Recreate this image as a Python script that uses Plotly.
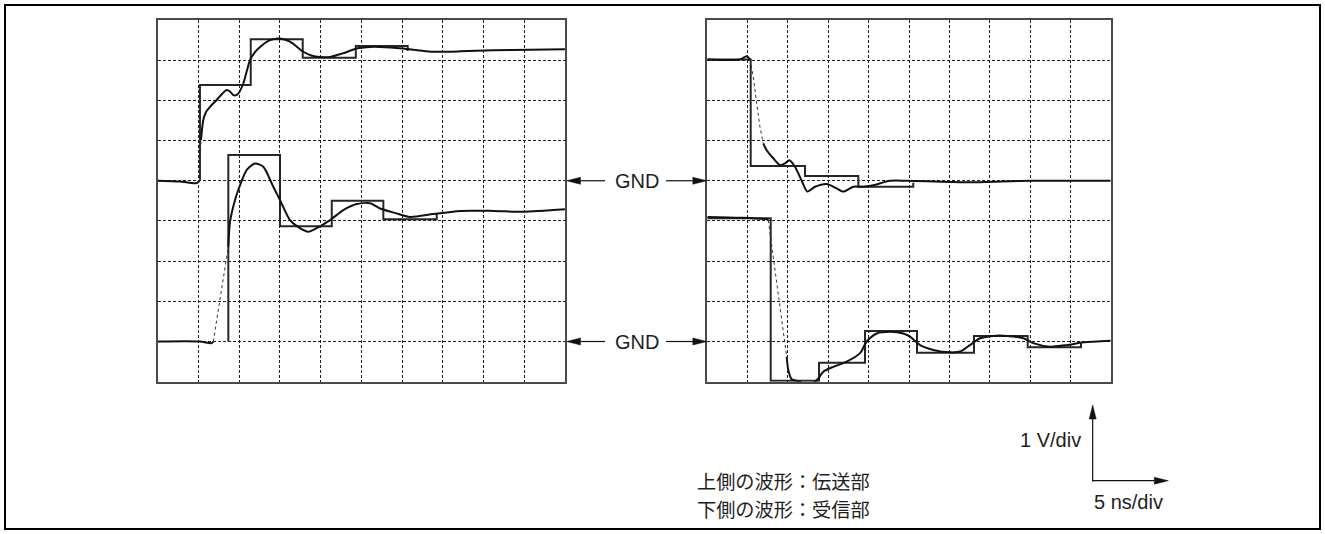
import plotly.graph_objects as go

# ---- canvas / screen geometry (pixels) ----
W, H = 1325, 534
PANEL_TOP, PANEL_BOTTOM = 20.0, 381.7
LEFT_PANEL = (157.5, 565.0)
RIGHT_PANEL = (707.3, 1110.7)

X_DIVS, Y_DIVS = 10, 9
NS_PER_DIV, V_PER_DIV = 5, 1

# ground reference of each trace, in divisions above the bottom of the screen
GND_UPPER = 5
GND_LOWER = 1

# ---- left screen: rising edge ----
# transmitter side (upper trace): time [ns], voltage above GND [V]
L_TX_T = [0.0, 2.76, 4.81, 5.15, 5.28, 5.34, 5.62, 5.95, 6.44, 7.26, 7.91, 8.49, 8.90,
          9.30, 9.63, 9.91, 10.53, 10.98, 11.35, 11.96, 12.58, 13.80, 15.03, 16.26,
          17.89, 18.96, 19.94, 21.17, 22.76, 24.44, 26.07, 27.30, 30.12, 32.21, 33.80,
          37.12, 41.16, 45.71, 50.0]
L_TX_V = [0.0, -0.02, -0.06, 0.0, 0.51, 1.01, 1.51, 1.71, 1.84, 2.01, 2.16, 2.26, 2.22,
          2.13, 2.13, 2.17, 2.42, 2.75, 3.00, 3.20, 3.33, 3.50, 3.54, 3.46,
          3.21, 3.11, 3.08, 3.08, 3.17, 3.29, 3.33, 3.33, 3.29, 3.24, 3.21,
          3.22, 3.25, 3.26, 3.27]
L_TX_FAST = (3, 5)          # index range sampled too coarsely -> drawn dotted
# lattice-diagram estimate for the transmitter side
L_TX_STEP_T = [5.21, 5.21, 11.44, 17.82, 24.33, 30.70]
L_TX_STEP_V = [0.0, 2.38, 3.52, 3.06, 3.35, 3.23]

# receiver side (lower trace)
L_RX_T = [0.0, 5.21, 6.65, 6.85, 8.69, 8.90, 9.51, 9.91, 10.95, 11.96, 12.98, 14.21,
          15.03, 16.26, 17.48, 18.50, 19.53, 21.17, 22.80, 24.44, 26.07, 27.30, 29.14,
          30.98, 33.84, 37.12, 41.16, 44.88, 50.0]
L_RX_V = [0.0, 0.0, -0.04, 0.0, 2.36, 2.98, 3.52, 3.77, 4.27, 4.43, 4.35, 3.85,
          3.52, 3.02, 2.82, 2.73, 2.82, 3.02, 3.27, 3.42, 3.44, 3.31, 3.20,
          3.10, 3.17, 3.25, 3.25, 3.23, 3.29]
L_RX_FAST = (3, 4)
L_RX_STEP_T = [8.69, 8.69, 15.03, 21.38, 27.71, 34.26]
L_RX_STEP_V = [0.0, 4.64, 2.87, 3.50, 3.04, 3.17]

# ---- right screen: falling edge ----
R_TX_T = [0.0, 4.05, 4.88, 5.29, 5.70, 6.12, 6.53, 6.94, 7.36, 8.18, 9.01, 9.63, 10.16,
          10.87, 11.70, 12.40, 13.35, 14.80, 16.04, 16.86, 18.10, 19.34, 20.58, 22.65,
          24.72, 32.15, 40.0, 50.0]
R_TX_V = [3.02, 3.02, 3.10, 3.02, 2.59, 1.93, 1.34, 0.93, 0.76, 0.56, 0.39, 0.43, 0.51,
          0.35, 0.0, -0.27, -0.15, -0.08, -0.19, -0.27, -0.15, -0.15, -0.11, 0.0,
          0.0, -0.04, 0.0, 0.0]
R_TX_FAST = (3, 7)
R_TX_STEP_T = [0.0, 5.38, 12.11, 18.72, 25.53]
R_TX_STEP_V = [3.02, 0.37, 0.12, -0.15, -0.05]

R_RX_T = [0.0, 4.05, 7.36, 7.56, 9.84, 10.04, 10.46, 11.49, 12.32, 13.14, 13.76, 14.38,
          15.62, 17.28, 18.93, 19.76, 21.0, 22.65, 24.29, 25.13, 26.37, 28.01, 30.08,
          31.32, 32.56, 33.80, 35.45, 37.11, 39.17, 40.41, 42.48, 44.55, 46.61, 50.0]
R_RX_V = [3.10, 3.08, 3.04, 3.02, -0.38, -0.71, -0.94, -1.0, -1.12, -1.04, -0.92, -0.75,
          -0.63, -0.50, -0.29, 0.0, 0.20, 0.24, 0.20, 0.12, -0.09, -0.21, -0.27,
          -0.25, -0.09, 0.08, 0.14, 0.14, 0.08, -0.04, -0.13, -0.09, -0.02, 0.02]
R_RX_FAST = (3, 4)
R_RX_STEP_T = [0.0, 7.86, 13.85, 19.55, 25.99, 33.06, 39.71, 46.32]
R_RX_STEP_V = [3.065, -0.975, -0.53, 0.26, -0.28, 0.14, -0.14, -0.03]

GND_LABEL = "GND"
LEGEND_LINES = ["上側の波形：伝送部", "下側の波形：受信部"]
V_SCALE_LABEL = "1 V/div"
T_SCALE_LABEL = "5 ns/div"

LATIN_FONT = "Liberation Sans, Arial, Helvetica, sans-serif"
CJK_FONT = "Noto Sans CJK JP, sans-serif"

CURVE_COLOR = "#111111"
STEP_COLOR = "#262626"
GRID_COLOR = "#1e1e1e"
BORDER_COLOR = "#4a4a4a"
TEXT_COLOR = "#1e1e1e"


def to_px_x(x):
    return x / W


def to_px_y(y):
    return 1 - y / H


def data_y_to_pixel(div):
    return PANEL_BOTTOM - div / Y_DIVS * (PANEL_BOTTOM - PANEL_TOP)


fig = go.Figure()


def add_waveform(t, v, gnd, fast, xa, ya):
    y = [vv / V_PER_DIV + gnd for vv in v]
    i0, i1 = fast
    parts = [(0, i0 + 1, "solid"), (i0, i1 + 1, "dot"), (i1, len(t), "solid")]
    for a, b, style in parts:
        if b - a < 2:
            continue
        if style == "solid":
            line = dict(color=CURVE_COLOR, width=2, shape="spline", smoothing=0.7)
        else:
            line = dict(color="#333333", width=1, dash="dot")
        fig.add_trace(go.Scatter(x=t[a:b], y=y[a:b], mode="lines", line=line,
                                 xaxis=xa, yaxis=ya, hoverinfo="skip", showlegend=False))


def add_step(t, v, gnd, xa, ya):
    y = [vv / V_PER_DIV + gnd for vv in v]
    fig.add_trace(go.Scatter(x=t, y=y, mode="lines",
                             line=dict(color=STEP_COLOR, width=2, shape="hv"),
                             xaxis=xa, yaxis=ya, hoverinfo="skip", showlegend=False))


# left screen
add_step(L_TX_STEP_T, L_TX_STEP_V, GND_UPPER, "x", "y")
add_step(L_RX_STEP_T, L_RX_STEP_V, GND_LOWER, "x", "y")
add_waveform(L_TX_T, L_TX_V, GND_UPPER, L_TX_FAST, "x", "y")
add_waveform(L_RX_T, L_RX_V, GND_LOWER, L_RX_FAST, "x", "y")
# right screen
add_step(R_TX_STEP_T, R_TX_STEP_V, GND_UPPER, "x2", "y2")
add_step(R_RX_STEP_T, R_RX_STEP_V, GND_LOWER, "x2", "y2")
add_waveform(R_TX_T, R_TX_V, GND_UPPER, R_TX_FAST, "x2", "y2")
add_waveform(R_RX_T, R_RX_V, GND_LOWER, R_RX_FAST, "x2", "y2")

axis_common = dict(showgrid=True, gridcolor=GRID_COLOR, gridwidth=1, griddash="3px,2px",
                   showline=True, mirror=True, linecolor=BORDER_COLOR, linewidth=1.5,
                   showticklabels=False, ticks="", zeroline=False, fixedrange=True)
x_range = [0, X_DIVS * NS_PER_DIV]
y_range = [0, Y_DIVS]
y_dom = [to_px_y(PANEL_BOTTOM), to_px_y(PANEL_TOP)]

fig.update_layout(
    width=W, height=H, autosize=False,
    margin=dict(l=0, r=0, t=0, b=0),
    paper_bgcolor="white", plot_bgcolor="white",
    xaxis=dict(domain=[to_px_x(LEFT_PANEL[0]), to_px_x(LEFT_PANEL[1])], range=x_range,
               dtick=NS_PER_DIV, anchor="y", **axis_common),
    yaxis=dict(domain=y_dom, range=y_range, dtick=V_PER_DIV, anchor="x", **axis_common),
    xaxis2=dict(domain=[to_px_x(RIGHT_PANEL[0]), to_px_x(RIGHT_PANEL[1])], range=x_range,
                dtick=NS_PER_DIV, anchor="y2", **axis_common),
    yaxis2=dict(domain=y_dom, range=y_range, dtick=V_PER_DIV, anchor="x2", **axis_common),
)

shapes = []
annotations = []


def arrow(x0, y0, x1, y1, head_len=14, head_half=3.5, width=1.2):
    """Line from (x0, y0) to an arrow tip at (x1, y1); pixel coordinates."""
    dx, dy = x1 - x0, y1 - y0
    length = (dx * dx + dy * dy) ** 0.5
    ux, uy = dx / length, dy / length
    bx, by = x1 - ux * head_len, y1 - uy * head_len
    shapes.append(dict(type="line", xref="paper", yref="paper",
                       x0=to_px_x(x0), y0=to_px_y(y0), x1=to_px_x(bx), y1=to_px_y(by),
                       line=dict(color="#111111", width=width)))
    px_, py_ = -uy, ux
    pts = [(x1, y1), (bx + px_ * head_half, by + py_ * head_half),
           (bx - px_ * head_half, by - py_ * head_half)]
    path = "M " + " L ".join(f"{to_px_x(a):.5f},{to_px_y(b):.5f}" for a, b in pts) + " Z"
    shapes.append(dict(type="path", xref="paper", yref="paper", path=path,
                       fillcolor="#111111", line=dict(color="#111111", width=0.5)))


# GND markers between the two screens
for gnd in (GND_UPPER, GND_LOWER):
    yp = data_y_to_pixel(gnd)
    arrow(605, yp, LEFT_PANEL[1] + 1.5, yp)
    arrow(666, yp, RIGHT_PANEL[0] - 0.5, yp)
    annotations.append(dict(text=GND_LABEL, x=to_px_x(637), y=to_px_y(yp), xref="paper",
                            yref="paper", showarrow=False, xanchor="center", yanchor="middle",
                            font=dict(family=LATIN_FONT, size=20, color=TEXT_COLOR)))

# scale indicator
corner = (1092.7, 480.7)
arrow(corner[0], corner[1] + 0.6, corner[0], 405)
arrow(corner[0] - 0.6, corner[1], 1168.3, corner[1])
annotations.append(dict(text=V_SCALE_LABEL, x=to_px_x(1083), y=to_px_y(440), xref="paper",
                        yref="paper", showarrow=False, xanchor="right", yanchor="middle",
                        font=dict(family=LATIN_FONT, size=20, color=TEXT_COLOR)))
annotations.append(dict(text=T_SCALE_LABEL, x=to_px_x(1092), y=to_px_y(502), xref="paper",
                        yref="paper", showarrow=False, xanchor="left", yanchor="middle",
                        font=dict(family=LATIN_FONT, size=20, color=TEXT_COLOR)))

# trace legend
for i, line in enumerate(LEGEND_LINES):
    annotations.append(dict(text=line, x=to_px_x(695), y=to_px_y(481.0 + i * 27.9),
                            xref="paper", yref="paper", showarrow=False, xanchor="left",
                            yanchor="middle",
                            font=dict(family=CJK_FONT, size=19.2, color=TEXT_COLOR)))

# outer frame
shapes.append(dict(type="rect", xref="paper", yref="paper",
                   x0=to_px_x(5), x1=to_px_x(1320), y0=to_px_y(529), y1=to_px_y(5),
                   line=dict(color="black", width=2), fillcolor="rgba(0,0,0,0)"))

fig.update_layout(shapes=shapes, annotations=annotations)
fig.write_html("out.html")
